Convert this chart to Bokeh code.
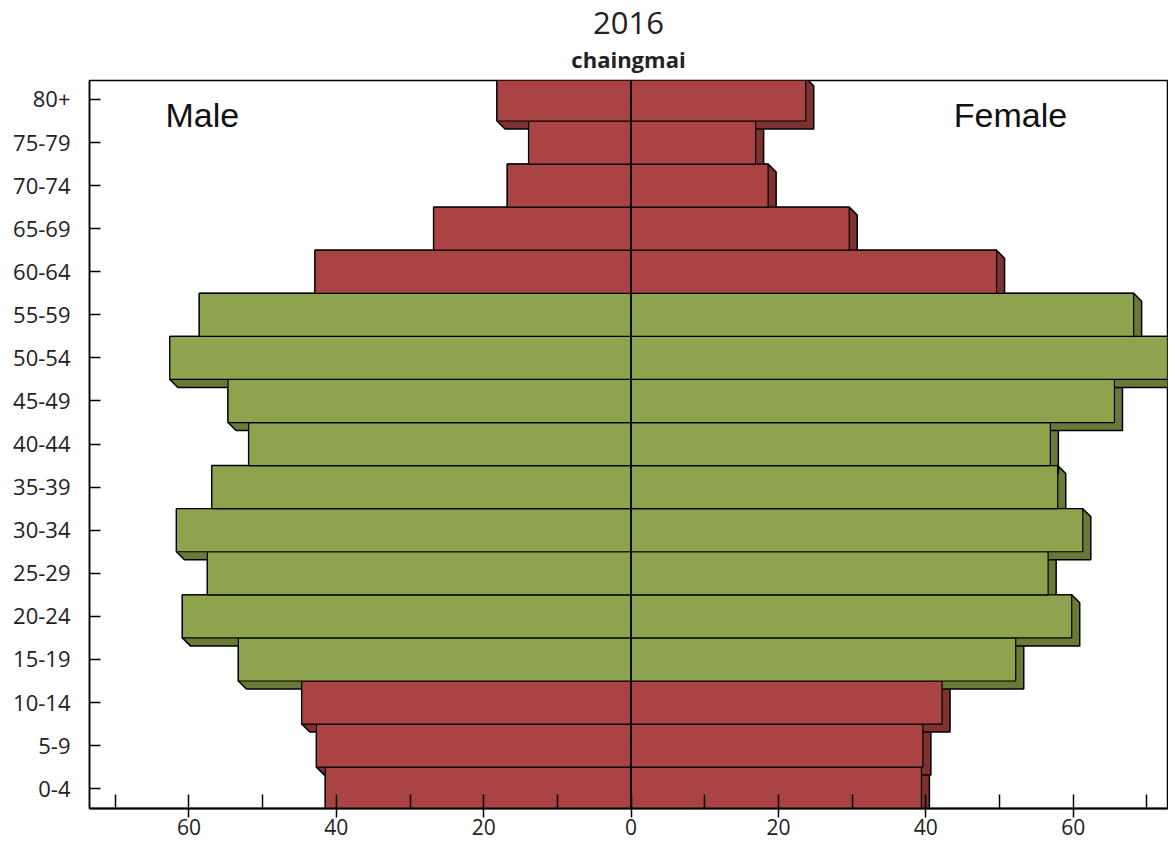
from bokeh.plotting import figure
from bokeh.models import Range1d, FixedTicker, Span, Label, Title, CustomJSTickFormatter
from bokeh.embed import file_html
from bokeh.resources import INLINE

# ---- data -------------------------------------------------------------
age_groups = ["0-4", "5-9", "10-14", "15-19", "20-24", "25-29", "30-34",
              "35-39", "40-44", "45-49", "50-54", "55-59", "60-64",
              "65-69", "70-74", "75-79", "80+"]
male = [41.5, 42.7, 44.7, 53.3, 60.9, 57.5, 61.7, 56.9, 51.9, 54.7,
        62.6, 58.6, 42.9, 26.8, 16.8, 13.9, 18.2]
female = [39.4, 39.6, 42.2, 52.2, 59.8, 56.6, 61.3, 57.9, 56.9, 65.6,
          72.9, 68.2, 49.6, 29.6, 18.6, 16.9, 23.7]
working_age = ["15-19", "20-24", "25-29", "30-34", "35-39", "40-44",
               "45-49", "50-54", "55-59"]
x_ticks = [-60, -40, -20, 0, 20, 40, 60]
x_minor = [-70, -50, -30, -10, 10, 30, 50, 70]

# ---- styles -----------------------------------------------------------
RED, RED_SIDE = "#AA4343", "#7D3131"
GREEN, GREEN_SIDE = "#8DA34D", "#687A36"
TICK_FONT = "Open Sans"

idx = list(range(len(age_groups)))
front = [GREEN if a in working_age else RED for a in age_groups]
side = [GREEN_SIDE if a in working_age else RED_SIDE for a in age_groups]

p = figure(width=1168, height=839, output_backend="svg", toolbar_location=None,
           title=None,
           x_range=Range1d(-73.5, 72.8), y_range=Range1d(-0.46, 16.44),
           min_border_left=89, min_border_right=1, min_border_top=80,
           min_border_bottom=31)
p.background_fill_color = "white"
p.border_fill_color = "white"
p.grid.visible = False
p.outline_line_color = "black"
p.outline_line_width = 1.5

# 3D extrusion depth (in data units, ~8 px)
dx, dy = 1.09, 0.185
h = 0.5

def extrusion(left, right, y):
    t, b = y + h, y - h
    xs = [left, right, right + dx, right + dx, left + dx, left]
    ys = [t, t, t - dy, b - dy, b - dy, b]
    return xs, ys

sx, sy, sc = [], [], []
for i, (m, f) in enumerate(zip(male, female)):
    xs, ys = extrusion(-m, 0, idx[i])
    sx.append(xs); sy.append(ys); sc.append(side[i])
    xs, ys = extrusion(0, f, idx[i])
    sx.append(xs); sy.append(ys); sc.append(side[i])

p.patches(sx, sy, fill_color=sc, line_color="black", line_width=1.5)

p.hbar(y=idx, left=[-m for m in male], right=0, height=1.0,
       fill_color=front, line_color="black", line_width=1.2)
p.hbar(y=idx, left=0, right=female, height=1.0,
       fill_color=front, line_color="black", line_width=1.2)

p.add_layout(Span(location=0, dimension="height", line_color="black",
                  line_width=1.5))

# Male / Female labels
p.add_layout(Label(x=-63.2, y=15.63, text="Male", text_font="Liberation Sans",
                   text_font_size="34px", text_color="#111111",
                   text_baseline="alphabetic"))
p.add_layout(Label(x=43.8, y=15.63, text="Female", text_font="Liberation Sans",
                   text_font_size="34px", text_color="#111111",
                   text_baseline="alphabetic"))

# x axis
xa = p.xaxis[0]
xa.ticker = FixedTicker(ticks=x_ticks, minor_ticks=x_minor)
xa.formatter = CustomJSTickFormatter(code="return Math.abs(tick).toString();")
xa.major_tick_in = 14
xa.major_tick_out = 9
xa.minor_tick_in = 14
xa.minor_tick_out = 0
xa.major_tick_line_width = 1.5
xa.minor_tick_line_width = 1.5
xa.major_tick_line_color = "black"
xa.minor_tick_line_color = "black"
xa.axis_line_width = 2
xa.axis_line_color = "black"
xa.major_label_standoff = 1
xa.major_label_text_font = TICK_FONT
xa.major_label_text_font_size = "21px"
xa.major_label_text_color = "#222222"

# y axis
ya = p.yaxis[0]
ya.ticker = FixedTicker(ticks=idx, minor_ticks=[])
ya.formatter = CustomJSTickFormatter(args=dict(labels=age_groups),
                                     code="return labels[Math.round(tick)];")
ya.major_tick_in = 11
ya.major_tick_out = 0
ya.minor_tick_in = 0
ya.minor_tick_out = 0
ya.major_tick_line_width = 1.5
ya.major_tick_line_color = "black"
ya.axis_line_width = 1.5
ya.axis_line_color = "black"
ya.major_label_standoff = 19
ya.major_label_text_font = TICK_FONT
ya.major_label_text_font_size = "22px"
ya.major_label_text_color = "#222222"

# titles
p.add_layout(Title(text="chaingmai", align="center", text_font=TICK_FONT,
                   text_font_size="22px", text_font_style="bold",
                   text_color="#222222", standoff=14), "above")
p.add_layout(Title(text="2016", align="center", text_font=TICK_FONT,
                   text_font_size="31px", text_font_style="normal",
                   text_color="#222222", standoff=2), "above")

open("out.html", "w").write(file_html(p, INLINE))
